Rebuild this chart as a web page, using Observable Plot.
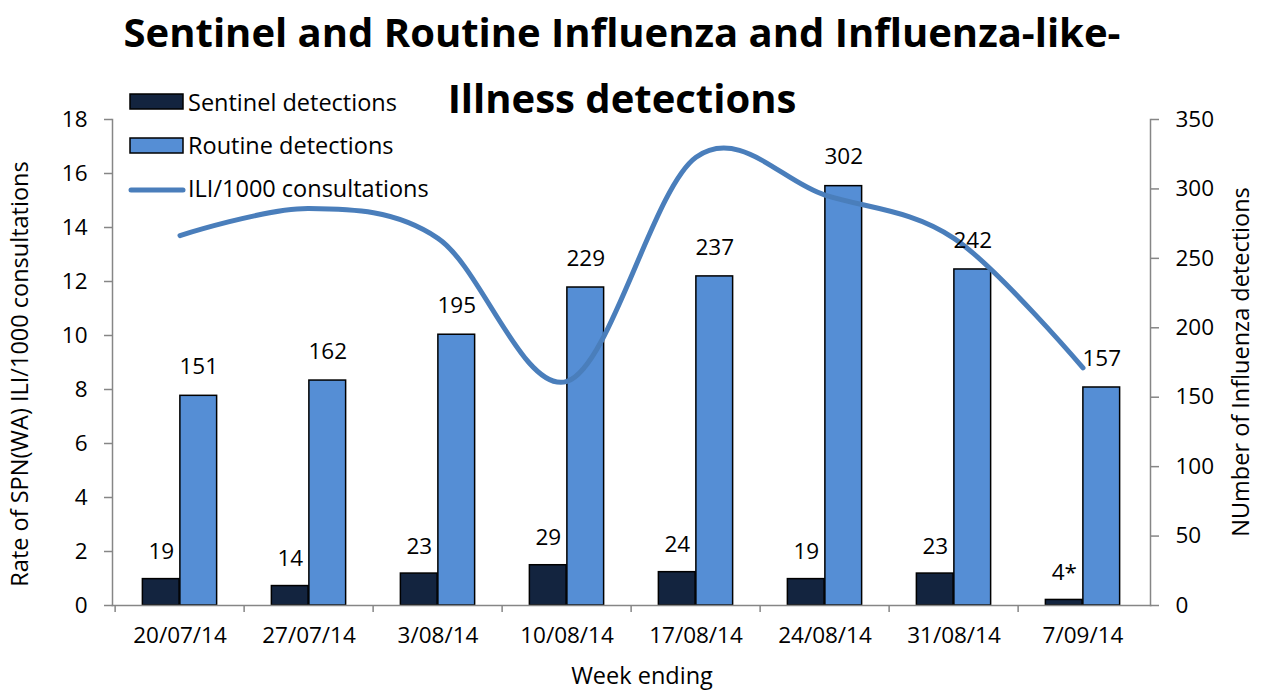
<!DOCTYPE html>
<html>
<head>
<meta charset="utf-8">
<script src="https://cdn.jsdelivr.net/npm/d3@7"></script>
<script src="https://cdn.jsdelivr.net/npm/@observablehq/plot@0.6"></script>
<style>
  body { margin: 0; background: #fff; }
  #chart { width: 1261px; height: 692px; }
</style>
</head>
<body>
<div id="chart"></div>
<script>
// ---- data ----
const weeks = ["20/07/14","27/07/14","3/08/14","10/08/14","17/08/14","24/08/14","31/08/14","7/09/14"];
const sentinel = [19, 14, 23, 29, 24, 19, 23, 4];
const sentinelLabels = ["19","14","23","29","24","19","23","4*"];
const routine = [151, 162, 195, 229, 237, 302, 242, 157];
const iliRate = [13.7, 14.7, 13.6, 8.3, 16.6, 15.2, 13.6, 8.8];
const leftTicks = [0, 2, 4, 6, 8, 10, 12, 14, 16, 18];
const rightTicks = [0, 50, 100, 150, 200, 250, 300, 350];
const leftMax = 18, rightMax = 350;

const title1 = "Sentinel and Routine Influenza and Influenza-like-";
const title2 = "Illness detections";
const leftLabel = "Rate of SPN(WA) ILI/1000 consultations";
const rightLabel = "NUmber of Influenza detections";
const xLabel = "Week ending";
const legendItems = ["Sentinel detections", "Routine detections", "ILI/1000 consultations"];

const cSent = "#13243F", cRout = "#558ED5", cLine = "#4A7EBB", cAxis = "#868686";

const rows = weeks.map((w, i) => ({
  week: w, sentinel: sentinel[i], sLabel: sentinelLabels[i],
  routine: routine[i], ili: iliRate[i]
}));
const toRight = v => v * rightMax / leftMax;

const W = 1261, H = 692, mL = 112, mR = 111, mT = 119, mB = 87;
const bw = (W - mL - mR) / weeks.length;
const barW = 37.5;
const outer = bw / 2 - barW;
const fs = 22.5;
const fsT = 23.5;

const plot = Plot.plot({
  width: W, height: H,
  marginLeft: mL, marginRight: mR, marginTop: mT, marginBottom: mB,
  style: { fontFamily: "'Open Sans', sans-serif", fontSize: fs + "px", color: "#000", background: "#fff" },
  x: { type: "band", domain: weeks, padding: 0, label: null },
  y: { domain: [0, rightMax], label: null },
  marks: [
    Plot.barY(rows, { x: "week", y: "sentinel", fill: cSent, stroke: "#000", strokeWidth: 1.5,
      insetLeft: outer, insetRight: bw / 2 }),
    Plot.barY(rows, { x: "week", y: "routine", fill: cRout, stroke: "#000", strokeWidth: 1.5,
      insetLeft: bw / 2, insetRight: outer }),
    Plot.line(rows, { x: "week", y: d => toRight(d.ili), curve: "cardinal", tension: 0,
      stroke: cLine, strokeWidth: 5, strokeLinecap: "round" }),
    Plot.text(rows, { x: "week", y: "sentinel", text: "sLabel", dx: -barW / 2, dy: -27,
      fontSize: fs, fill: "#000" }),
    Plot.text(rows, { x: "week", y: "routine", text: d => String(d.routine), dx: barW / 2, dy: -29,
      fontSize: fs, fill: "#000" }),
    Plot.frame({ anchor: "left", stroke: cAxis, strokeWidth: 1.5 }),
    Plot.frame({ anchor: "right", stroke: cAxis, strokeWidth: 1.5 }),
    Plot.frame({ anchor: "bottom", stroke: cAxis, strokeWidth: 1.5 }),
    Plot.axisY({ anchor: "left", ticks: leftTicks.map(toRight), tickFormat: d => String(Math.round(d * leftMax / rightMax)),
      tickSize: 8, tickPadding: 17, stroke: cAxis, strokeWidth: 1.5, fontSize: fs, label: null }),
    Plot.axisY({ anchor: "right", ticks: rightTicks, tickFormat: d => String(d),
      tickSize: 8, tickPadding: 17, stroke: cAxis, strokeWidth: 1.5, fontSize: fs, label: null }),
    Plot.axisX({ anchor: "bottom", tickSize: 0, tickPadding: 22, fontSize: fs, label: null }),
    Plot.axisX({ anchor: "bottom", tickSize: 7, tickFormat: () => "", dx: -bw / 2,
      stroke: cAxis, strokeWidth: 1.5, label: null })
  ]
});

document.getElementById("chart").appendChild(plot);

// ---- titles, axis titles and legend drawn into the same SVG ----
const svg = d3.select(plot);
const g = svg.append("g").attr("font-family", "'Open Sans', sans-serif").attr("fill", "#000");

g.append("text").attr("x", 622).attr("y", 47).attr("text-anchor", "middle")
  .attr("font-size", 40).attr("font-weight", "bold").text(title1);
g.append("text").attr("x", 622).attr("y", 113).attr("text-anchor", "middle")
  .attr("font-size", 40).attr("font-weight", "bold").text(title2);

g.append("text").attr("transform", "translate(19,374) rotate(-90)").attr("text-anchor", "middle")
  .attr("dominant-baseline", "central").attr("font-size", fsT).text(leftLabel);
g.append("text").attr("transform", "translate(1240,362) rotate(-90)").attr("text-anchor", "middle")
  .attr("dominant-baseline", "central").attr("font-size", fsT).text(rightLabel);
g.append("text").attr("x", 642).attr("y", 675).attr("text-anchor", "middle")
  .attr("dominant-baseline", "central").attr("font-size", fsT).text(xLabel);

const lg = g.append("g");
lg.append("rect").attr("x", 130).attr("y", 94).attr("width", 53).attr("height", 15)
  .attr("fill", cSent).attr("stroke", "#000").attr("stroke-width", 1.5);
lg.append("rect").attr("x", 130).attr("y", 138).attr("width", 53).attr("height", 15)
  .attr("fill", cRout).attr("stroke", "#000").attr("stroke-width", 1.5);
lg.append("line").attr("x1", 131).attr("x2", 183).attr("y1", 190).attr("y2", 190)
  .attr("stroke", cLine).attr("stroke-width", 5).attr("stroke-linecap", "round");
[101.5, 145, 188].forEach((y, i) => {
  lg.append("text").attr("x", 188).attr("y", y).attr("text-anchor", "start")
    .attr("dominant-baseline", "central").attr("font-size", fsT).text(legendItems[i]);
});
</script>
</body>
</html>
